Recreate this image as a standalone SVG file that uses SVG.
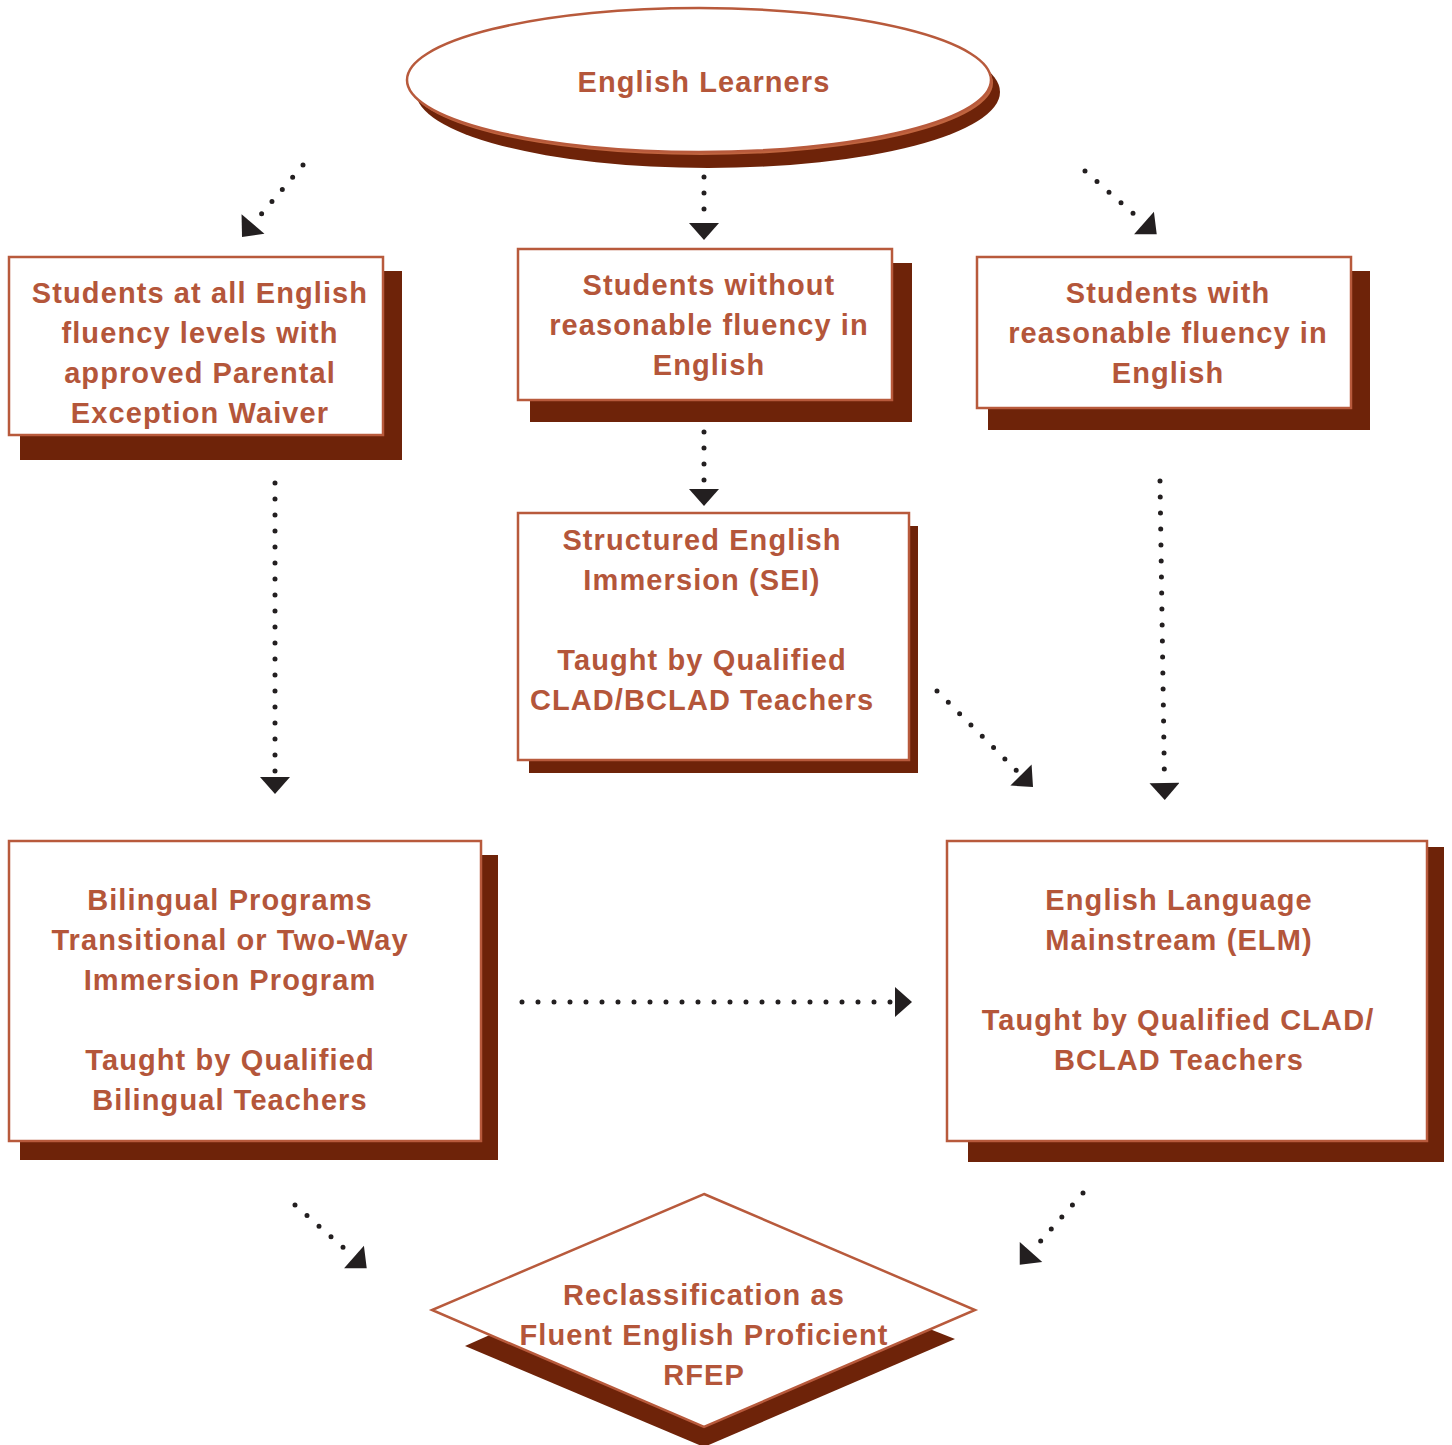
<svg xmlns="http://www.w3.org/2000/svg" width="1452" height="1445" viewBox="0 0 1452 1445">
  <defs>
    <style>
      .shadow { fill: #6e2309; }
      .box { fill: #ffffff; stroke: #b85a3c; stroke-width: 2.5; }
      .label { font-family: "Liberation Sans", Arial, sans-serif; font-weight: bold; font-size: 29px; fill: #b4563a; text-anchor: middle; letter-spacing: 1.1px; }
      .dots { fill: none; stroke: #231f20; stroke-width: 5; stroke-linecap: round; stroke-dasharray: 0 16; }
    </style>
    <marker id="head" markerUnits="userSpaceOnUse" markerWidth="18" markerHeight="30" viewBox="0 0 17 30" refX="0" refY="15" orient="auto">
      <path d="M0,0 L17,15 L0,30 Z" fill="#231f20"/>
    </marker>
  </defs>
  <rect width="1452" height="1445" fill="#ffffff"/>

  <g id="connectors">
    <line class="dots" x1="303" y1="165" x2="253" y2="224" marker-end="url(#head)"/>
    <line class="dots" x1="704" y1="177" x2="704" y2="223" marker-end="url(#head)"/>
    <line class="dots" x1="1085" y1="171" x2="1144" y2="223" marker-end="url(#head)"/>
    <line class="dots" x1="704" y1="432" x2="704" y2="489" marker-end="url(#head)"/>
    <line class="dots" x1="275" y1="483" x2="275" y2="777" marker-end="url(#head)"/>
    <line class="dots" x1="937" y1="691" x2="1021" y2="775" marker-end="url(#head)"/>
    <line class="dots" x1="1160" y1="481" x2="1164.5" y2="783" marker-end="url(#head)"/>
    <line class="dots" x1="522" y1="1002" x2="895" y2="1002" marker-end="url(#head)"/>
    <line class="dots" x1="295" y1="1205" x2="354" y2="1257" marker-end="url(#head)"/>
    <line class="dots" x1="1083" y1="1193" x2="1031" y2="1252" marker-end="url(#head)"/>
  </g>

  <g id="node-english-learners">
    <ellipse cx="708" cy="92" rx="292" ry="76" class="shadow"/>
    <ellipse cx="701" cy="83" rx="292" ry="72" fill="#c0643f"/>
    <ellipse cx="699" cy="80" rx="292" ry="72" class="box"/>
    <text class="label" x="704" y="92">English Learners</text>
  </g>

  <g id="node-waiver">
    <rect class="shadow" x="20" y="271" width="382" height="189"/>
    <rect class="box" x="9" y="257" width="374" height="178"/>
    <text class="label" x="200" y="303">Students at all English</text>
    <text class="label" x="200" y="343">fluency levels with</text>
    <text class="label" x="200" y="383">approved Parental</text>
    <text class="label" x="200" y="423">Exception Waiver</text>
  </g>

  <g id="node-without-fluency">
    <rect class="shadow" x="530" y="263" width="382" height="159"/>
    <rect class="box" x="518" y="249" width="374" height="151"/>
    <text class="label" x="709" y="295">Students without</text>
    <text class="label" x="709" y="335">reasonable fluency in</text>
    <text class="label" x="709" y="375">English</text>
  </g>

  <g id="node-with-fluency">
    <rect class="shadow" x="988" y="271" width="382" height="159"/>
    <rect class="box" x="977" y="257" width="374" height="151"/>
    <text class="label" x="1168" y="303">Students with</text>
    <text class="label" x="1168" y="343">reasonable fluency in</text>
    <text class="label" x="1168" y="383">English</text>
  </g>

  <g id="node-sei">
    <rect class="shadow" x="529" y="526" width="389" height="247"/>
    <rect class="box" x="518" y="513" width="391" height="247"/>
    <text class="label" x="702" y="550">Structured English</text>
    <text class="label" x="702" y="590">Immersion (SEI)</text>
    <text class="label" x="702" y="670">Taught by Qualified</text>
    <text class="label" x="702" y="710">CLAD/BCLAD Teachers</text>
  </g>

  <g id="node-bilingual">
    <rect class="shadow" x="20" y="855" width="478" height="305"/>
    <rect class="box" x="9" y="841" width="472" height="300"/>
    <text class="label" x="230" y="910">Bilingual Programs</text>
    <text class="label" x="230" y="950">Transitional or Two-Way</text>
    <text class="label" x="230" y="990">Immersion Program</text>
    <text class="label" x="230" y="1070">Taught by Qualified</text>
    <text class="label" x="230" y="1110">Bilingual Teachers</text>
  </g>

  <g id="node-elm">
    <rect class="shadow" x="968" y="847" width="476" height="315"/>
    <rect class="box" x="947" y="841" width="480" height="300"/>
    <text class="label" x="1179" y="910">English Language</text>
    <text class="label" x="1179" y="950">Mainstream (ELM)</text>
    <text class="label" x="1178" y="1030">Taught by Qualified CLAD/</text>
    <text class="label" x="1179" y="1070">BCLAD Teachers</text>
  </g>

  <g id="node-rfep">
    <polygon class="shadow" points="704,1240 955,1339 704,1447 465,1346"/>
    <polygon class="box" points="704,1194 975,1310 704,1427 432,1310"/>
    <text class="label" x="704" y="1305">Reclassification as</text>
    <text class="label" x="704" y="1345">Fluent English Proficient</text>
    <text class="label" x="704" y="1385">RFEP</text>
  </g>
</svg>
